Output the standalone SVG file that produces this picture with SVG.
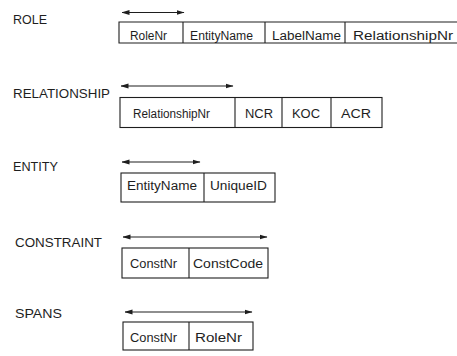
<svg xmlns="http://www.w3.org/2000/svg" width="457" height="356" viewBox="0 0 457 356">
  <style>
    .bg { fill: #ffffff; }
    .name { font-family: "Liberation Sans", Arial, sans-serif; font-size: 13px; fill: #1e1e1e; }
    .cell-text { font-family: "Liberation Sans", Arial, sans-serif; font-size: 12px; fill: #1e1e1e; }
    .cell { fill: none; stroke: #1e1e1e; stroke-width: 1.1; }
    .key { fill: none; stroke: #1e1e1e; stroke-width: 1.1; marker-start: url(#tipL); marker-end: url(#tipR); }
  </style>
  <defs>
    <marker id="tipR" viewBox="0 0 8 6" refX="7.5" refY="3" markerWidth="8" markerHeight="6" markerUnits="userSpaceOnUse" orient="auto">
      <path d="M0,0.5 L8,3 L0,5.5 Z" fill="#1e1e1e"/>
    </marker>
    <marker id="tipL" viewBox="0 0 8 6" refX="0.5" refY="3" markerWidth="8" markerHeight="6" markerUnits="userSpaceOnUse" orient="auto">
      <path d="M8,0.5 L0,3 L8,5.5 Z" fill="#1e1e1e"/>
    </marker>
  </defs>

  <rect class="bg" x="0" y="0" width="457" height="356"/>

  <!-- key-span arrows above each table -->
  <g id="connectors">
    <line class="key" x1="122" y1="12.5" x2="184" y2="12.5"/>
    <line class="key" x1="121" y1="86" x2="233" y2="86"/>
    <line class="key" x1="122" y1="162" x2="200" y2="162"/>
    <line class="key" x1="123" y1="237" x2="267" y2="237"/>
    <line class="key" x1="125" y1="312" x2="252" y2="312"/>
  </g>

  <g id="role">
    <text class="name" x="13" y="24" textLength="34" lengthAdjust="spacingAndGlyphs">ROLE</text>
    <path class="cell" d="M458,22 H119 V43 H458 M183,22 V43 M265,22 V43 M345,22 V43"/>
    <text class="cell-text" x="130" y="40" textLength="37" lengthAdjust="spacingAndGlyphs">RoleNr</text>
    <text class="cell-text" x="190" y="40" textLength="63" lengthAdjust="spacingAndGlyphs">EntityName</text>
    <text class="cell-text" x="272" y="40" textLength="69" lengthAdjust="spacingAndGlyphs">LabelName</text>
    <text class="cell-text" x="353" y="40" textLength="100" lengthAdjust="spacingAndGlyphs">RelationshipNr</text>
  </g>

  <g id="relationship">
    <text class="name" x="13" y="98" textLength="97" lengthAdjust="spacingAndGlyphs">RELATIONSHIP</text>
    <rect class="cell" x="120" y="97.5" width="262" height="30"/>
    <path class="cell" d="M235,97.5 V127.5 M282,97.5 V127.5 M331,97.5 V127.5"/>
    <text class="cell-text" x="133" y="118" textLength="77" lengthAdjust="spacingAndGlyphs">RelationshipNr</text>
    <text class="cell-text" x="245" y="118" textLength="28" lengthAdjust="spacingAndGlyphs">NCR</text>
    <text class="cell-text" x="292" y="118" textLength="28" lengthAdjust="spacingAndGlyphs">KOC</text>
    <text class="cell-text" x="341" y="118" textLength="30" lengthAdjust="spacingAndGlyphs">ACR</text>
  </g>

  <g id="entity">
    <text class="name" x="13" y="171" textLength="45" lengthAdjust="spacingAndGlyphs">ENTITY</text>
    <rect class="cell" x="121" y="173" width="154" height="29"/>
    <path class="cell" d="M204,173 V202"/>
    <text class="cell-text" x="127" y="190" textLength="70" lengthAdjust="spacingAndGlyphs">EntityName</text>
    <text class="cell-text" x="210" y="190" textLength="57" lengthAdjust="spacingAndGlyphs">UniqueID</text>
  </g>

  <g id="constraint">
    <text class="name" x="15" y="247" textLength="87" lengthAdjust="spacingAndGlyphs">CONSTRAINT</text>
    <rect class="cell" x="122" y="248" width="146" height="30"/>
    <path class="cell" d="M189,248 V278"/>
    <text class="cell-text" x="130" y="268" textLength="47" lengthAdjust="spacingAndGlyphs">ConstNr</text>
    <text class="cell-text" x="193" y="268" textLength="70" lengthAdjust="spacingAndGlyphs">ConstCode</text>
  </g>

  <g id="spans">
    <text class="name" x="15" y="318" textLength="47" lengthAdjust="spacingAndGlyphs">SPANS</text>
    <rect class="cell" x="123" y="322" width="130" height="28"/>
    <path class="cell" d="M189,322 V350"/>
    <text class="cell-text" x="130" y="342" textLength="47" lengthAdjust="spacingAndGlyphs">ConstNr</text>
    <text class="cell-text" x="195" y="342" textLength="47" lengthAdjust="spacingAndGlyphs">RoleNr</text>
  </g>
</svg>
